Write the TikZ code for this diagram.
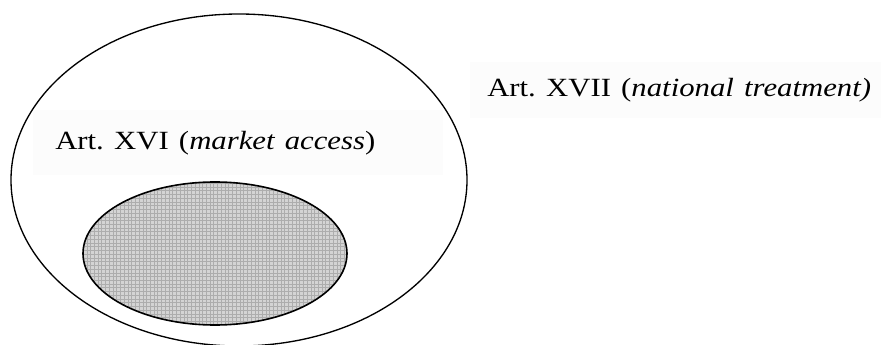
\documentclass[tikz,border=0pt]{standalone}
\usepackage{fontspec}
\setmainfont{Liberation Serif}
\usepackage{graphicx}
\usetikzlibrary{shapes.geometric}

\tikzset{
  label box/.style={anchor=north west, fill=black!1, inner sep=0pt, align=left,
    font=\fontsize{19.7}{23}\selectfont},
  grid fill/.style={fill=black!17, path picture={
    \foreach \k in {0,...,90} {
      \draw [black!32, line width=0.3pt] ([xshift=\k*2.8pt]path picture bounding box.south west) -- ++(0,200pt);
      \draw [black!32, line width=0.3pt] ([yshift=\k*2.8pt]path picture bounding box.south west) -- ++(260pt,0);
    }}}
}

\begin{document}
\frenchspacing
\begin{tikzpicture}[x=0.75pt,y=-0.75pt]
\useasboundingbox (0,0) rectangle (881,345);

\node (xvii) [draw, ellipse, line width=1pt, minimum width=342pt, minimum height=249pt, inner sep=0pt] at (239,180) {};
\node (xvi) [label box, text width=274.5pt, inner xsep=16.5pt, minimum height=48.75pt] at (33,110) {\scalebox{1.17}[1]{Art. XVI (\textit{market access})}};
\node (both) [draw, ellipse, grid fill, line width=1.2pt, minimum width=198pt, minimum height=107.25pt, inner sep=0pt] at (215,253.5) {};
\node (nt) [label box, text width=295.5pt, inner xsep=12.75pt, minimum height=42pt] at (470,62) {\scalebox{1.17}[1]{Art. XVII (\textit{national treatment)}}};
\end{tikzpicture}
\end{document}
